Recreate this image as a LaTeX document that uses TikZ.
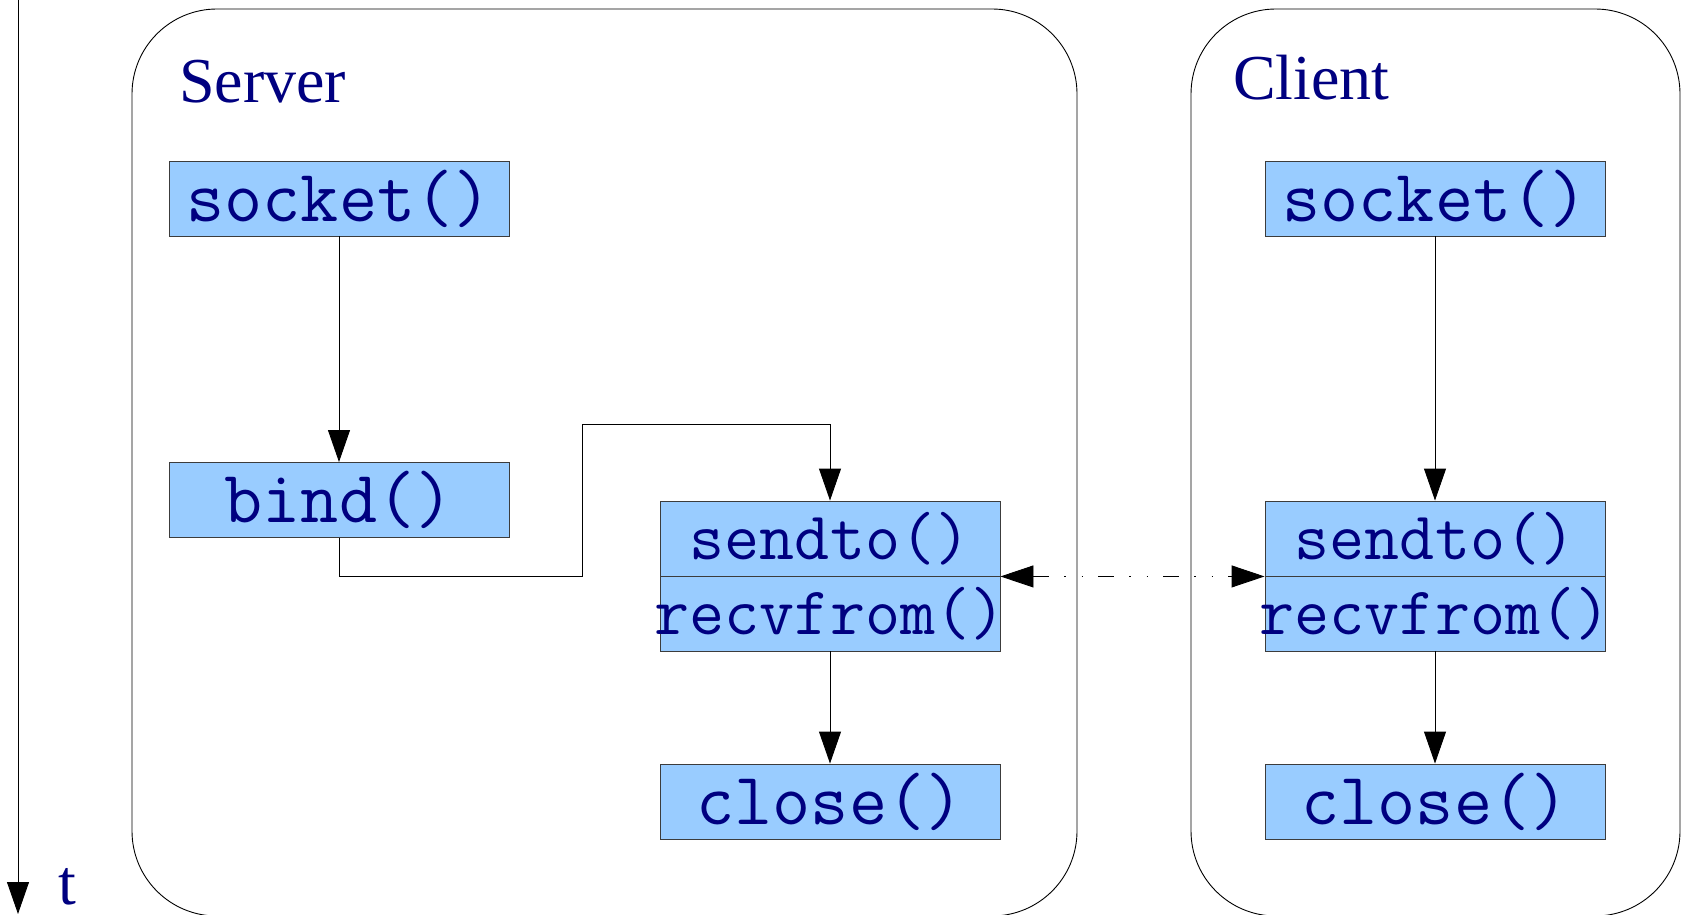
\documentclass[tikz,border=0pt]{standalone}
\usepackage{fontspec}
\setmainfont{Liberation Serif}
\usetikzlibrary{arrows.meta}
\definecolor{navy}{RGB}{0,0,128}
\definecolor{boxblue}{RGB}{153,204,255}
\definecolor{edge}{RGB}{60,60,60}
\newcommand{\fnlabel}[1]{\makebox[0pt]{\raisebox{-3pt}{#1}}}
\tikzset{
  fn/.style={draw=edge, line width=0.9pt, fill=boxblue, text=navy,
    minimum width=340pt, minimum height=75pt, inner sep=0pt,
    font=\fontsize{74}{74}\selectfont\ttfamily},
  fnsmall/.style={fn, font=\fontsize{68}{68}\selectfont\ttfamily},
  title/.style={text=navy, font=\fontsize{64}{64}\selectfont, anchor=base west, inner sep=0pt},
  frame/.style={draw=black, line width=0.9pt, rounded corners=85pt},
  conn/.style={draw=black, line width=0.9pt, -{Triangle[length=32pt,width=22pt]}},
}
\begin{document}
\begin{tikzpicture}[x=1pt,y=-1pt]
\useasboundingbox (0,0) rectangle (1681,915);
\clip (0,0) rectangle (1681,915);
% frames
\draw[frame] (132,9) rectangle (1077,916);
\draw[frame] (1191,9) rectangle (1680,916);
% titles
\node[title] (srvt) at (179,103) {Server};
\node[title] (clit) at (1233,100) {Client};
% time axis
\coordinate (t0) at (18,0);
\coordinate (t1) at (18,914);
\draw[conn] (t0) -- (t1);
\node[title] (tlab) at (58,904) {t};
% server boxes
\node[fn] (ssock) at (339,198.5) {\fnlabel{socket()}};
\node[fn] (sbind) at (339,500) {\fnlabel{bind()}};
\node[fnsmall] (ssend) at (830,538.5) {\fnlabel{sendto()}};
\node[fnsmall] (srecv) at (830,613.5) {\fnlabel{recvfrom()}};
\node[fn] (sclose) at (830,801.5) {\fnlabel{close()}};
% client boxes
\node[fn] (csock) at (1435,198.5) {\fnlabel{socket()}};
\node[fnsmall] (csend) at (1435,538.5) {\fnlabel{sendto()}};
\node[fnsmall] (crecv) at (1435,613.5) {\fnlabel{recvfrom()}};
\node[fn] (cclose) at (1435,801.5) {\fnlabel{close()}};
% connectors
\draw[conn] (ssock) -- (sbind);
\coordinate (k1) at (582,576);
\coordinate (k2) at (582,424.5);
\draw[conn] (sbind.south) |- (k1) -- (k2) -| (ssend.north);
\draw[conn] (srecv) -- (sclose);
\draw[conn] (csock) -- (csend);
\draw[conn] (crecv) -- (cclose);
\draw[line width=0.9pt, {Triangle[length=33pt,width=22pt]}-{Triangle[length=33pt,width=22pt]},
  dash pattern=on 16pt off 15pt on 1.5pt off 16pt on 1.5pt off 15pt]
  (ssend.south east) -- (csend.south west);
\end{tikzpicture}
\end{document}
